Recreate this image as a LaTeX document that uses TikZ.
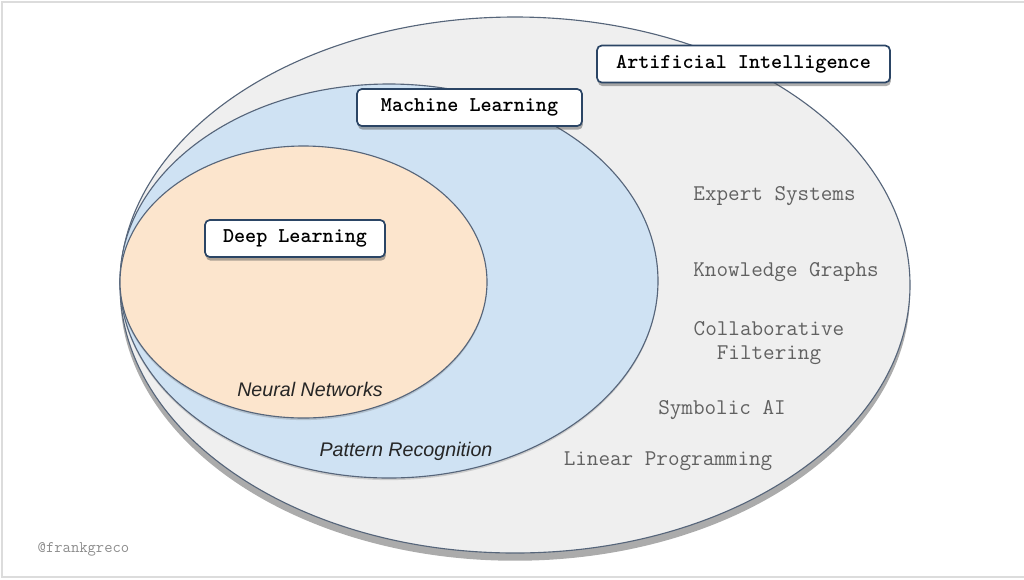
\documentclass[tikz,border=0pt]{standalone}
\usepackage{fontspec}
\usepackage{tikz}
\usetikzlibrary{shadows}

\newfontfamily\italfont{Liberation Sans}

\definecolor{aifill}{HTML}{EFEFEF}
\definecolor{mlfill}{HTML}{CFE2F3}
\definecolor{dlfill}{HTML}{FCE5CD}
\definecolor{rimline}{HTML}{56657A}
\definecolor{boxline}{HTML}{2B4565}
\definecolor{framegray}{HTML}{DCDCDC}
\definecolor{listgray}{HTML}{616161}

\begin{document}
\begin{tikzpicture}[
            x = 0.25mm, % one pixel of the reference
            y = -0.25mm, % y runs downwards
            line width = 0.8pt%,
            %thick % line style
        ]

        \tikzstyle{ring}=[
            draw = rimline,
            line width = 0.8pt
        ]
        \tikzstyle{tag}=[
            draw = boxline,
            line width = 1.2pt,
            fill = white,
            rounded corners = 1.2mm,
            minimum height = 9.25mm,
            font = \ttfamily\bfseries\fontsize{15}{18}\selectfont,
            drop shadow = {shadow xshift = 0.6pt, shadow yshift = -2.6pt, opacity = .45, fill = black!70}
        ]
        \tikzstyle{item}=[
            text = listgray,
            align = center,
            font = \ttfamily\fontsize{16}{17}\selectfont
        ]
        \tikzstyle{field}=[
            text = black!85,
            font = \italfont\itshape\fontsize{14}{16}\selectfont
        ]

        \useasboundingbox (0,0) rectangle (1024,579);
        \draw[framegray, line width = 1.4pt] (1024,2) -- (2,2) -- (2,577) -- (1024,577);

        % the three sets
        \draw[ring, fill = aifill, drop shadow = {shadow xshift = 0pt, shadow yshift = -5.5pt, opacity = .55, fill = black!60}]
            (515,285) ellipse [x radius = 395, y radius = 268];
        \draw[ring, fill = mlfill, drop shadow = {shadow xshift = 0pt, shadow yshift = -1.5pt, opacity = .25, fill = black!60}]
            (389,281) ellipse [x radius = 269, y radius = 197];
        \draw[ring, fill = dlfill, drop shadow = {shadow xshift = 0pt, shadow yshift = -1.5pt, opacity = .25, fill = black!60}]
            (303.5,282) ellipse [x radius = 183.5, y radius = 136];

        % what sits in each set
        \node[item]  (expert)   at ( 774.5 , 196   ) {Expert Systems};
        \node[item]  (graphs)   at ( 786   , 272   ) {Knowledge Graphs};
        \node[item]  (collab)   at ( 769   , 343   ) {Collaborative\\Filtering};
        \node[item]  (symbolic) at ( 722   , 410   ) {Symbolic AI};
        \node[item]  (linprog)  at ( 668   , 461   ) {Linear Programming};
        \node[field] (neural)   at ( 310   , 389   ) {Neural Networks};
        \node[field] (pattern)  at ( 406   , 451   ) {Pattern Recognition};

        % set titles
        \node[tag, minimum width = 73.25mm] (ai) at ( 743.5 , 64    ) {Artificial Intelligence};
        \node[tag, minimum width = 56.25mm] (ml) at ( 469.5 , 107.5 ) {Machine Learning};
        \node[tag, minimum width = 45mm]    (dl) at ( 295   , 238.5 ) {Deep Learning};

        \node[text = black!45, font = \ttfamily\fontsize{11.5}{13}\selectfont] (credit) at ( 83.5 , 549 ) {@frankgreco};

    \end{tikzpicture}
\end{document}
